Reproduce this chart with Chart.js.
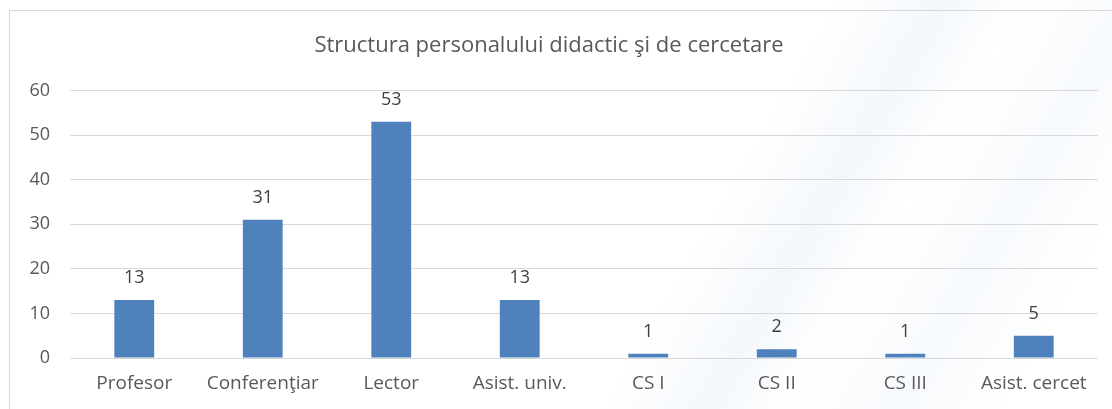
<!DOCTYPE html>
<html>
<head>
<meta charset="utf-8">
<script src="https://cdn.jsdelivr.net/npm/chart.js@4/dist/chart.umd.min.js"></script>
<style>
  html, body { margin: 0; padding: 0; background: #fff; }
  .wrap {
    position: relative; width: 1112px; height: 409px; overflow: hidden;
    background:
      linear-gradient(120deg, rgba(255,255,255,0) 62%, rgba(222,233,245,0.35) 70%, rgba(255,255,255,0) 76%, rgba(228,237,247,0.3) 84%, rgba(255,255,255,0) 92%),
      #fff;
  }
  .frame {
    position: absolute; left: 9px; top: 10px; width: 1200px; height: 500px;
    border: 1px solid #d9d9d9; box-sizing: border-box;
  }
  canvas { position: absolute; left: 0; top: 0; }
</style>
</head>
<body>
<div class="wrap">
  <div class="frame"></div>
  <canvas id="chart" width="1112" height="409"></canvas>
</div>
<script>
// dados do gráfico
const categorias = ['Profesor', 'Conferenţiar', 'Lector', 'Asist. univ.', 'CS I', 'CS II', 'CS III', 'Asist. cercet'];
const valores = [13, 31, 53, 13, 1, 2, 1, 5];
const tituloGrafico = 'Structura personalului didactic şi de cercetare';

const corTexto = '#595959';
const fonte = "'Open Sans', 'Noto Sans', sans-serif";

// rótulos em cima das barras
const rotulosBarras = {
    id: 'rotulosBarras',
    afterDatasetsDraw(chart) {
        const ctx = chart.ctx;
        const meta = chart.getDatasetMeta(0);
        ctx.save();
        ctx.font = '18px ' + fonte;
        ctx.fillStyle = '#404040';
        ctx.textAlign = 'center';
        ctx.textBaseline = 'middle';
        meta.data.forEach((bar, i) => {
            ctx.fillText(String(valores[i]), bar.x, bar.y - 22);
        });
        ctx.restore();
    }
};

const ctx = document.getElementById('chart').getContext('2d');
new Chart(ctx, {
    type: 'bar',
    data: {
        labels: categorias,
        datasets: [{
            data: valores,
            backgroundColor: '#4f81bd',
            borderWidth: 0,
            categoryPercentage: 1,
            barPercentage: 0.31
        }]
    },
    options: {
        responsive: false,
        animation: false,
        layout: { padding: { left: 0, right: 14, top: 0, bottom: 0 } },
        plugins: {
            legend: { display: false },
            tooltip: { enabled: false },
            title: {
                display: true,
                text: tituloGrafico,
                color: corTexto,
                font: { family: fonte, size: 22, weight: 'normal' },
                padding: { top: 33, bottom: 31 }
            }
        },
        scales: {
            x: {
                grid: { display: false, drawTicks: false },
                border: { display: false },
                ticks: { color: corTexto, font: { family: fonte, size: 19, lineHeight: 1.1 }, padding: 15, maxRotation: 0 }
            },
            y: {
                min: 0,
                max: 60,
                afterFit(scale) { scale.width = 70; },
                grid: { color: '#d9d9d9', lineWidth: 1, drawTicks: false },
                border: { display: false },
                ticks: { stepSize: 10, color: corTexto, font: { family: fonte, size: 18 }, padding: 20 }
            }
        }
    },
    plugins: [rotulosBarras]
});
</script>
</body>
</html>
